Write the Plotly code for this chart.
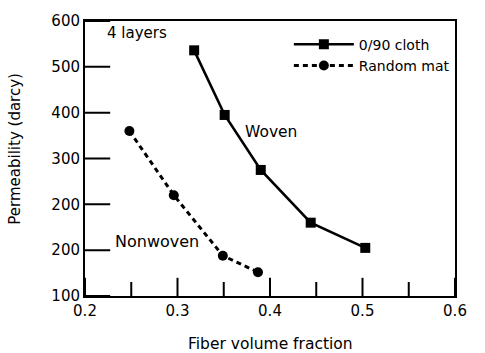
import plotly.graph_objects as go

# Data
woven_vf = [0.318, 0.351, 0.390, 0.444, 0.503]
woven_perm = [536, 395, 275, 160, 105]
mat_vf = [0.248, 0.296, 0.349, 0.387]
mat_perm = [360, 220, 88, 52]

x_tickvals = [0.2, 0.3, 0.4, 0.5, 0.6]
x_ticktext = ["0.2", "0.3", "0.4", "0.5", "0.6"]
x_minor = [0.25, 0.35, 0.45, 0.55]
y_tickvals = [0, 100, 200, 300, 400, 500, 600]
y_ticktext = ["100", "200", "200", "300", "400", "500", "600"]

X_RANGE = [0.2, 0.6]
Y_RANGE = [0, 600]
FONT = "DejaVu Sans"

fig = go.Figure()
fig.add_trace(go.Scatter(
    x=woven_vf, y=woven_perm, mode="lines+markers", name="0/90 cloth",
    line=dict(color="black", width=2.6),
    marker=dict(symbol="square", size=10, color="black"),
))
fig.add_trace(go.Scatter(
    x=mat_vf, y=mat_perm, mode="lines+markers", name="Random mat",
    line=dict(color="black", width=3, dash="5px,4px"),
    marker=dict(symbol="circle", size=10, color="black"),
))

# Inward-pointing tick marks, drawn through the axes' own scales
# (half of each line marker falls outside the plot area and is clipped)
tick_mark = dict(color="black", line=dict(color="black", width=2))
fig.add_trace(go.Scatter(
    x=x_tickvals, y=[Y_RANGE[0]] * len(x_tickvals), mode="markers",
    marker=dict(symbol="line-ns", size=26, **tick_mark),
    showlegend=False, hoverinfo="skip", cliponaxis=True,
))
fig.add_trace(go.Scatter(
    x=x_minor, y=[Y_RANGE[0]] * len(x_minor), mode="markers",
    marker=dict(symbol="line-ns", size=20, **tick_mark),
    showlegend=False, hoverinfo="skip", cliponaxis=True,
))
fig.add_trace(go.Scatter(
    x=[X_RANGE[0]] * len(y_tickvals), y=y_tickvals, mode="markers",
    marker=dict(symbol="line-ew", size=36, **tick_mark),
    showlegend=False, hoverinfo="skip", cliponaxis=True,
))

fig.update_layout(
    xaxis=dict(
        range=X_RANGE, tickmode="array", tickvals=x_tickvals, ticktext=x_ticktext,
        ticks="", showline=True, linecolor="black", linewidth=2, mirror=True,
        showgrid=False, zeroline=False,
        tickfont=dict(family=FONT, size=15, color="black"),
    ),
    yaxis=dict(
        range=Y_RANGE, tickmode="array", tickvals=y_tickvals, ticktext=y_ticktext,
        ticks="", showline=True, linecolor="black", linewidth=2, mirror=True,
        showgrid=False, zeroline=False,
        tickfont=dict(family=FONT, size=15, color="black"),
    ),
)

fig.update_layout(
    width=485, height=353,
    margin=dict(l=85, r=30, t=14, b=57),
    paper_bgcolor="white", plot_bgcolor="white",
    font=dict(family=FONT, size=14, color="black"),
    showlegend=True,
    legend=dict(
        x=0.551, y=0.972, xanchor="left", yanchor="top",
        bgcolor="rgba(0,0,0,0)", itemwidth=60,
        font=dict(family=FONT, size=14, color="black"),
        tracegroupgap=0,
    ),
    annotations=[
        dict(text="Permeability (darcy)", xref="paper", yref="paper",
             x=-0.189, y=0.536, textangle=-90, showarrow=False,
             xanchor="center", yanchor="middle",
             font=dict(family=FONT, size=15, color="black")),
        dict(text="Fiber volume fraction", xref="paper", yref="paper",
             x=0.5, y=-0.175, showarrow=False,
             xanchor="center", yanchor="middle",
             font=dict(family=FONT, size=15.5, color="black")),
        dict(text="4 layers", xref="x", yref="y", x=0.2565, y=573,
             showarrow=False, xanchor="center", yanchor="middle",
             font=dict(family=FONT, size=15, color="black")),
        dict(text="Woven", xref="x", yref="y", x=0.401, y=358,
             showarrow=False, xanchor="center", yanchor="middle",
             font=dict(family=FONT, size=15.5, color="black")),
        dict(text="Nonwoven", xref="x", yref="y", x=0.2775, y=120,
             showarrow=False, xanchor="center", yanchor="middle",
             font=dict(family=FONT, size=16, color="black")),
    ],
)

fig.write_html("out.html")
